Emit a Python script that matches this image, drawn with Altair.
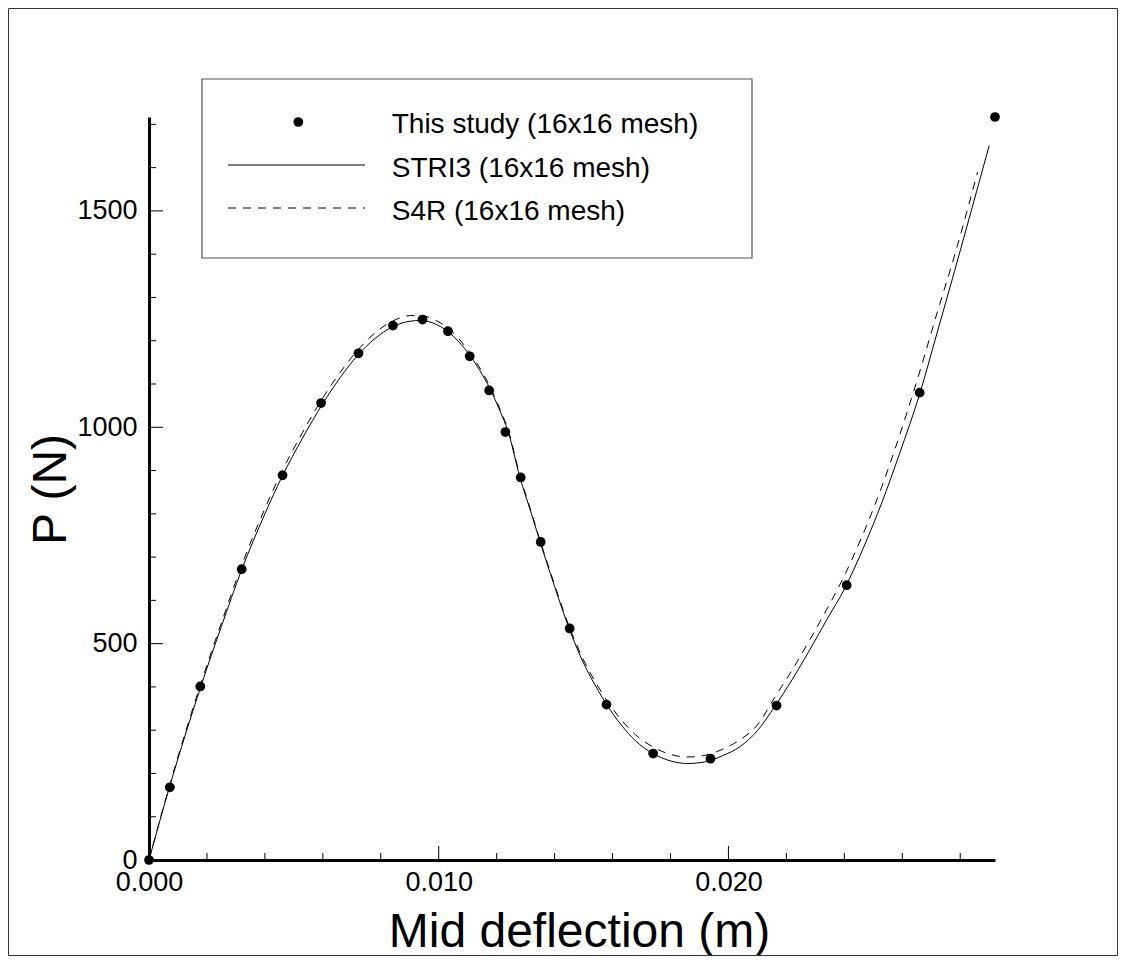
import altair as alt
import pandas as pd

# ---------------- data ----------------
SERIES = ["This study (16x16 mesh)", "STRI3 (16x16 mesh)", "S4R (16x16 mesh)"]

# This study (dots)
STUDY_D = [0.0, 0.00072, 0.00177, 0.00320, 0.00461, 0.00594, 0.00723, 0.00842,
           0.00944, 0.01032, 0.01107, 0.01174, 0.01230, 0.01283, 0.01352, 0.01452,
           0.01579, 0.01740, 0.01938, 0.02166, 0.02408, 0.02660, 0.02920]
STUDY_P = [0, 168, 401, 672, 889, 1056, 1171, 1235,
           1249, 1222, 1164, 1085, 989, 884, 735, 535,
           359, 246, 234, 357, 635, 1080, 1717]

# STRI3 (solid line)
STRI3_D = [0.0, 0.0007, 0.0018, 0.0025, 0.0032, 0.0040, 0.0046, 0.0053, 0.0060,
           0.0066, 0.0072, 0.0078, 0.0084, 0.0090, 0.0094, 0.0098, 0.0103, 0.0107,
           0.0111, 0.0115, 0.0118, 0.0121, 0.0124, 0.0128, 0.0132, 0.0135, 0.0140,
           0.0145, 0.0150, 0.0155, 0.0158, 0.0163, 0.0168, 0.0174, 0.0180, 0.0186,
           0.0192, 0.0198, 0.0204, 0.0210, 0.0216, 0.0222, 0.0228, 0.0234, 0.0240,
           0.0247, 0.0253, 0.0259, 0.0266, 0.0272, 0.0278, 0.0284, 0.0290]
STRI3_P = [0, 167, 403, 540, 671, 800, 887, 975, 1055,
           1115, 1166, 1205, 1232, 1245, 1247, 1241, 1222, 1197,
           1164, 1122, 1085, 1040, 989, 885, 800, 735, 632,
           535, 455, 392, 359, 312, 275, 246, 229, 223,
           227, 241, 262, 299, 355, 417, 485, 556, 626,
           728, 827, 938, 1077, 1218, 1360, 1505, 1651]

# S4R (dashed line)
S4R_D = [0.0, 0.0007, 0.0018, 0.0025, 0.0032, 0.0040, 0.0046, 0.0053, 0.0060,
         0.0066, 0.0072, 0.0078, 0.0084, 0.0090, 0.0094, 0.0098, 0.0103, 0.0107,
         0.0111, 0.0115, 0.0118, 0.0121, 0.0124, 0.0128, 0.0132, 0.0135, 0.0140,
         0.0145, 0.0150, 0.0155, 0.0158, 0.0163, 0.0168, 0.0174, 0.0180, 0.0186,
         0.0192, 0.0198, 0.0204, 0.0210, 0.0216, 0.0222, 0.0228, 0.0234, 0.0240,
         0.0247, 0.0253, 0.0259, 0.0266, 0.0272, 0.0278, 0.0286]
S4R_P = [0, 170, 410, 548, 681, 812, 900, 988, 1068,
         1127, 1178, 1218, 1245, 1258, 1258, 1250, 1230, 1204,
         1170, 1128, 1090, 1044, 993, 889, 803, 738, 636,
         540, 462, 401, 369, 324, 289, 261, 244, 238,
         242, 256, 278, 312, 376, 439, 508, 580, 657,
         762, 864, 980, 1128, 1264, 1396, 1590]

X_LABEL_VALUES = [0.0, 0.010, 0.020]
X_MAJOR_TICKS = [0.010, 0.020]
X_MINOR_TICKS = [0.002, 0.004, 0.006, 0.008, 0.012, 0.014, 0.016, 0.018,
                 0.022, 0.024, 0.026, 0.028]
Y_LABEL_VALUES = [0, 500, 1000, 1500]
Y_MAJOR_TICKS = [500, 1000, 1500]
Y_MINOR_TICKS = [100, 200, 300, 400, 600, 700, 800, 900, 1100, 1200, 1300,
                 1400, 1600, 1700]

X_DOMAIN = [0.0, 0.0292]
Y_DOMAIN = [0, 1717]

# ---------------- layout ----------------
W, H = 846, 743
PAD = {"left": 141, "top": 109, "right": 123, "bottom": 96}
FONT = "Liberation Sans"
TICK_FS = 27
TITLE_FS = 48

xs = alt.Scale(domain=X_DOMAIN, nice=False, zero=False)
ys = alt.Scale(domain=Y_DOMAIN, nice=False, zero=False)

study = pd.DataFrame({"d": STUDY_D, "p": STUDY_P})
stri3 = pd.DataFrame({"d": STRI3_D, "p": STRI3_P})
s4r = pd.DataFrame({"d": S4R_D, "p": S4R_P})

x_axis = alt.Axis(values=X_LABEL_VALUES, format=".3f", title="Mid deflection (m)",
                  ticks=False, tickSize=0, labelPadding=9, labelFontSize=TICK_FS,
                  labelFont=FONT, labelColor="black", labelFlush=False,
                  domainWidth=3, domainColor="black", grid=False,
                  titleFont=FONT, titleFontSize=TITLE_FS, titleFontWeight="normal",
                  titleColor="black", titleX=430, titleY=86,
                  titleAlign="center", titleBaseline="alphabetic")
y_axis = alt.Axis(values=Y_LABEL_VALUES, format="d", title="P (N)",
                  ticks=False, tickSize=0, labelPadding=12, labelFontSize=TICK_FS,
                  labelFont=FONT, labelColor="black",
                  domainWidth=3, domainColor="black", grid=False,
                  titleFont=FONT, titleFontSize=TITLE_FS, titleFontWeight="normal",
                  titleColor="black", titleX=-84, titleY=372,
                  titleAlign="center", titleBaseline="alphabetic")

X_ENC = lambda f: alt.X(f, type="quantitative", scale=xs, axis=x_axis)
Y_ENC = lambda f: alt.Y(f, type="quantitative", scale=ys, axis=y_axis)

one = pd.DataFrame({"k": [0]})

frame = alt.Chart(one).mark_rect(fillOpacity=0, stroke="#333333", strokeWidth=1).encode(
    x=alt.value(-140.5), x2=alt.value(968.5), y=alt.value(-108.5), y2=alt.value(838.5))

line_solid = alt.Chart(stri3).mark_line(color="black", strokeWidth=1, interpolate="monotone").encode(
    x=X_ENC("d"), y=Y_ENC("p"))

line_dash = alt.Chart(s4r).mark_line(color="black", strokeWidth=1, strokeDash=[8, 7],
                                     interpolate="monotone").encode(
    x=X_ENC("d"), y=Y_ENC("p"))

dots = alt.Chart(study).mark_circle(color="black", size=95, opacity=1).encode(
    x=X_ENC("d"), y=Y_ENC("p"))

def xticks(vals, length):
    return alt.Chart(pd.DataFrame({"v": vals})).mark_rule(color="black", strokeWidth=1).encode(
        x=X_ENC("v"), y=alt.value(H), y2=alt.value(H - length))

def yticks(vals, length):
    return alt.Chart(pd.DataFrame({"v": vals})).mark_rule(color="black", strokeWidth=1).encode(
        y=Y_ENC("v"), x=alt.value(0), x2=alt.value(length))

# ---------------- legend ----------------
leg_box = alt.Chart(one).mark_rect(fillOpacity=0, stroke="#555555", strokeWidth=1.2).encode(
    x=alt.value(53), x2=alt.value(603), y=alt.value(-38), y2=alt.value(141))
leg_dot = alt.Chart(one).mark_circle(color="black", size=95, opacity=1).encode(
    x=alt.value(149.3), y=alt.value(5))
leg_solid = alt.Chart(one).mark_rule(color="black", strokeWidth=1).encode(
    x=alt.value(79), x2=alt.value(216), y=alt.value(48))
leg_dash = alt.Chart(one).mark_rule(color="black", strokeWidth=1, strokeDash=[8, 7]).encode(
    x=alt.value(79), x2=alt.value(216), y=alt.value(91))

def leg_text(label, ybase):
    return alt.Chart(pd.DataFrame({"label": [label]})).mark_text(
        align="left", baseline="alphabetic", font=FONT, fontSize=28, color="black").encode(
        x=alt.value(242.7), y=alt.value(ybase), text="label:N")

chart = alt.layer(
    line_solid, line_dash,
    xticks(X_MINOR_TICKS, 7), xticks(X_MAJOR_TICKS, 14),
    yticks(Y_MINOR_TICKS, 7), yticks(Y_MAJOR_TICKS, 14),
    dots,
    frame,
    leg_box, leg_dot, leg_solid, leg_dash,
    leg_text(SERIES[0], 16.3), leg_text(SERIES[1], 59.7), leg_text(SERIES[2], 103),
).properties(
    width=W, height=H,
    autosize=alt.AutoSizeParams(type="none"),
    padding=PAD,
    background="white",
).configure_view(stroke=None)

chart.save("out.html", embed_options={"renderer": "svg", "actions": False})
